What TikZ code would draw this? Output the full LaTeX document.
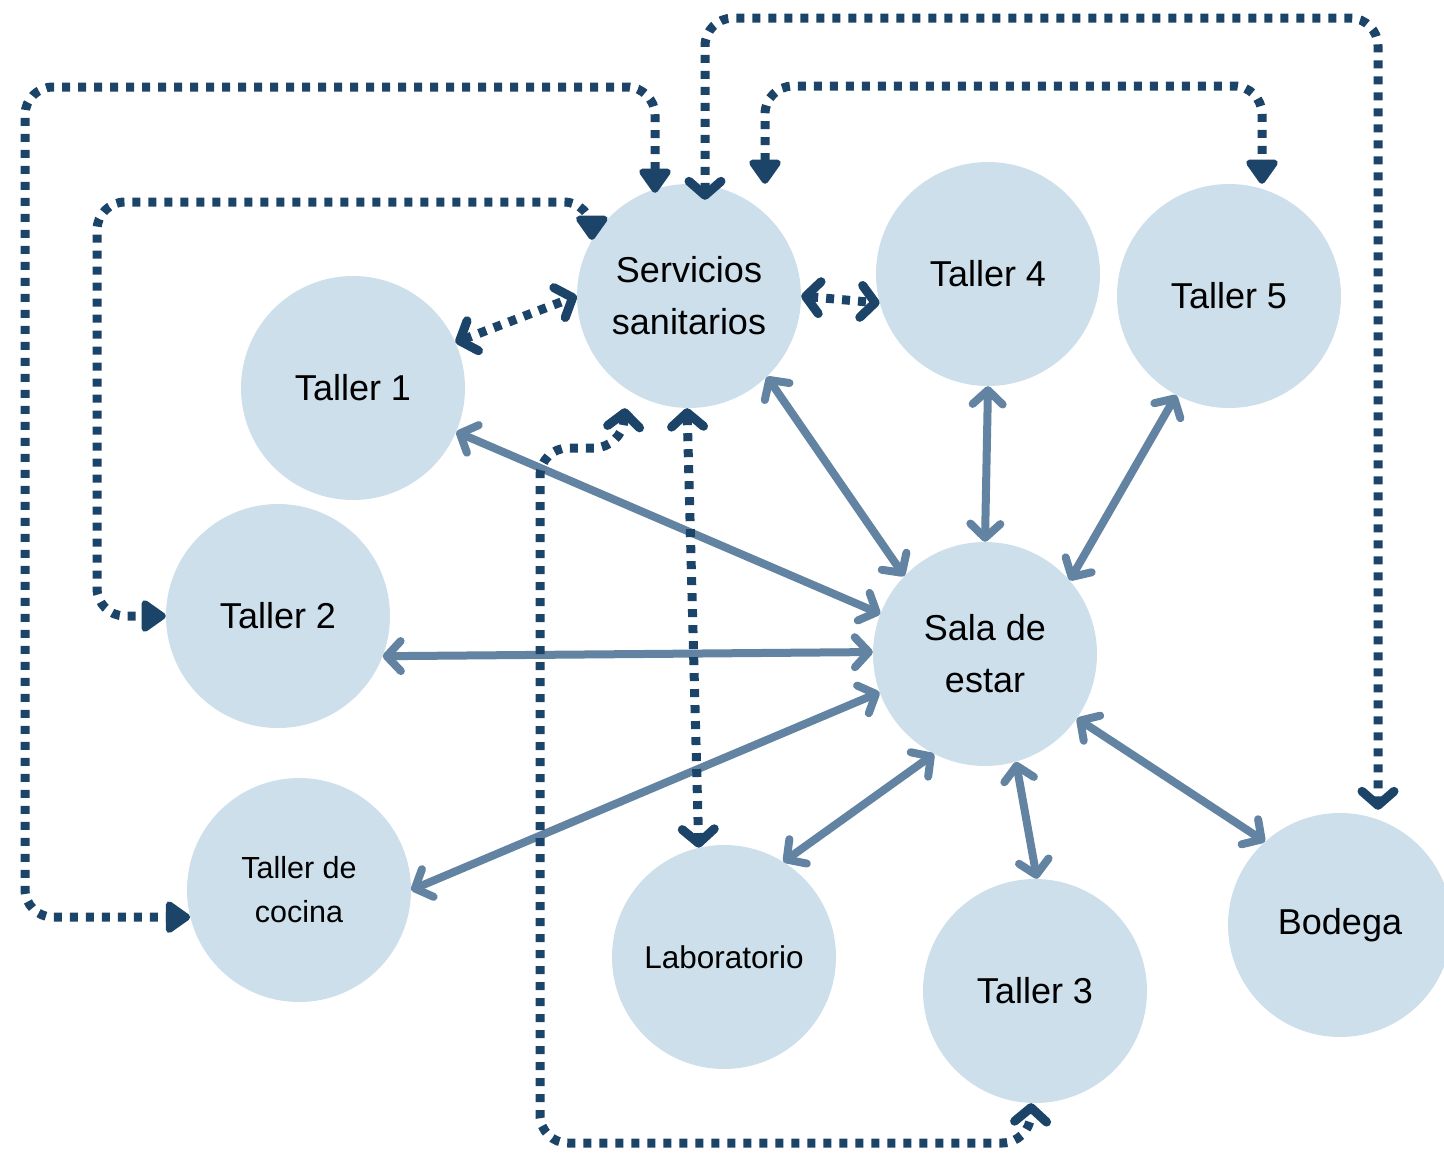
\documentclass[tikz,border=0pt]{standalone}
\usepackage{fontspec}
\setmainfont{Liberation Sans}
\usetikzlibrary{arrows.meta}
\definecolor{bubble}{RGB}{204,223,235}
\definecolor{steel}{RGB}{98,131,162}
\definecolor{navy}{RGB}{28,68,104}
\tikzset{
  chev/.tip={Straight Barb[length=14pt,width=32pt,round]},
  tri/.tip={Triangle[length=27pt,width=36pt,round]},
  sbarb/.tip={Straight Barb[length=14pt,width=30pt,round]},
  room/.style={circle, fill=bubble, minimum size=224pt, inner sep=0pt, align=center,
    font=\fontsize{36}{52}\selectfont},
  solidlink/.style={draw=steel, line width=8pt, line cap=round, sbarb-sbarb},
  dotlink/.style={draw=navy, line width=9pt, dash pattern=on 8pt off 8pt, rounded corners=28pt}
}
\begin{document}
\begin{tikzpicture}[x=1pt,y=-1pt]
\useasboundingbox (0,0) rectangle (1444,1152);
\clip (0,0) rectangle (1444,1152);
% rooms
\node[room] (sv) at (689,296) {Servicios\\sanitarios};
\node[room] (t4) at (988,274) {Taller 4};
\node[room] (t5) at (1229,296) {Taller 5};
\node[room] (t1) at (353,388) {Taller 1};
\node[room] (t2) at (278,616) {Taller 2};
\node[room] (sl) at (985,654) {Sala de\\estar};
\node[room, font=\fontsize{30.5}{44}\selectfont] (tc) at (299,890) {Taller de\\cocina};
\node[room, font=\fontsize{31.5}{40}\selectfont] (lb) at (724,957) {Laboratorio};
\node[room] (t3) at (1035,991) {Taller 3};
\node[room] (bd) at (1340,925) {Bodega};
% waypoint coordinates
\coordinate (x655) at (655,0);
\coordinate (x705) at (705,0);
\coordinate (x765) at (765,0);
\coordinate (x625) at (625,0);
\coordinate (h5) at (1262,86);
\coordinate (hb) at (1378,18);
\coordinate (hc) at (25,87);
\coordinate (h2) at (97,202);
% solid links to the living room
\draw[solidlink] (t1.-23) -- (sl.159.5);
\draw[solidlink] (t2.-21) -- (sl.179);
\draw[solidlink] (tc.0) -- (sl.-160);
\draw[solidlink] (lb.58) -- (sl.-117);
\draw[solidlink] (t3.89) -- (sl.-74);
\draw[solidlink] (bd.132) -- (sl.-35);
\draw[solidlink] (sv.-46) -- (sl.136);
\draw[solidlink] (t4.-90) -- (sl.90);
\draw[solidlink] (t5.-118) -- (sl.41.5);
% dotted links from the sanitary services
\draw[dotlink, chev-chev] (t1.24) -- (sv.180);
\draw[dotlink, chev-chev] (sv.0) -- (t4.-165);
\draw[dotlink, chev-chev] (sv.-91.5) -- (lb.103.5);
\draw[dotlink, chev-chev] (sv.south -| x625) -- (622,448) -- (540,448) -- (540,1143) -- (1030,1143) -- (t3.-92);
\draw[dotlink, tri-tri] (sv.150) |- (h2) |- (t2.west);
\draw[dotlink, tri-tri, shorten <=-9pt] (sv.north -| x655) |- (hc) |- (tc.-166);
\draw[dotlink, chev-chev, shorten <=-16pt, shorten >=3pt] (sv.north -| x705) |- (hb) -- (bd.north -| hb);
\draw[dotlink, tri-tri] (sv.north -| x765) |- (h5) -- (t5.north -| h5);
\end{tikzpicture}
\end{document}
